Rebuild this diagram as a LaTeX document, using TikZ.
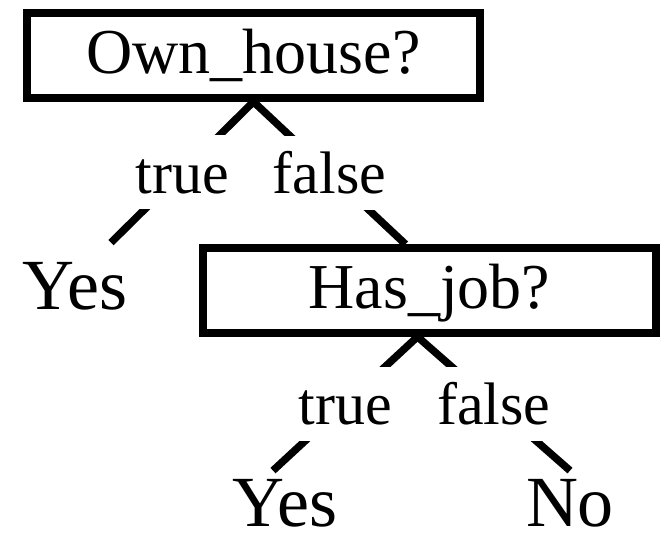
\documentclass[tikz,border=0pt]{standalone}
\usepackage{fontspec}
\setmainfont{Liberation Serif}
\usetikzlibrary{positioning}

\begin{document}
\begin{tikzpicture}[x=0.5pt,y=-0.5pt,
    decision/.style={draw,line width=3.75pt,minimum width=226.5pt,minimum height=42.5pt,
      inner sep=0,font=\fontsize{32}{38}\selectfont,text height=18pt,text depth=0pt},
    leaf/.style={inner sep=1pt,anchor=base,font=\fontsize{36}{43}\selectfont,
      text height=23.5pt,text depth=0pt},
    branch/.style={fill=white,inner xsep=2pt,inner ysep=8pt,font=\fontsize{30}{36}\selectfont,
      text height=21pt,text depth=0pt},
    link/.style={line width=3.75pt}]
  \useasboundingbox (0,0) rectangle (660,544);

  \node(house)[decision] at (253.5,55.5){Own\_house?};
  \node(job)[decision] at (429.5,290.5){Has\_job?};
  \node(yes1)[leaf] at (75,310){Yes};
  \node(yes2)[leaf] at (285,527){Yes};
  \node(no)[leaf] at (570,527){No};

  \draw[link](house.south)--([xshift=18pt,yshift=9pt]yes1.north) node(t1)[branch,midway]{true};
  \draw[link](house.south)--([xshift=-12pt]job.north) node(f1)[branch,midway]{false};
  \draw[link]([xshift=-6pt]job.south)--([xshift=-6pt,yshift=3.5pt]yes2.north) node(t2)[branch,midway]{true};
  \draw[link]([xshift=-6pt]job.south)--([yshift=3.5pt]no.north) node(f2)[branch,midway]{false};
\end{tikzpicture}
\end{document}
